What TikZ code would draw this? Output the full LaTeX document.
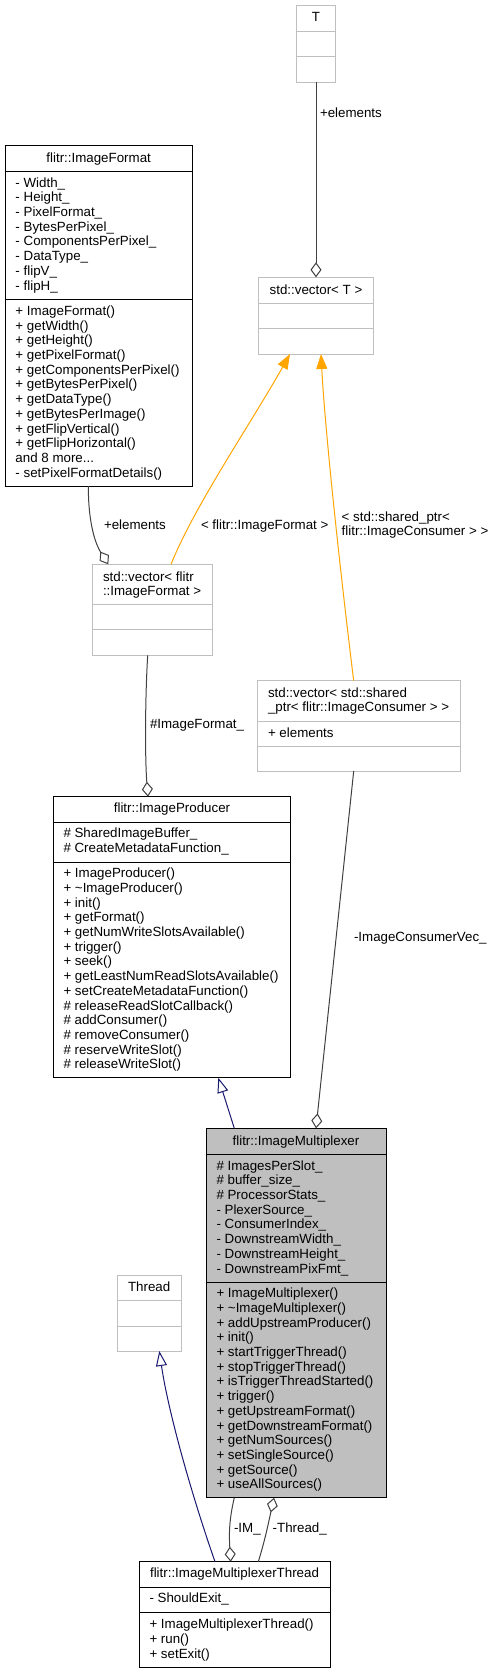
\documentclass[tikz,border=0pt]{standalone}
\usepackage{fontspec}
\setmainfont{Liberation Sans}
\usetikzlibrary{arrows.meta}
\definecolor{undoc}{HTML}{BFBFBF}
\definecolor{assoccol}{HTML}{404040}
\definecolor{inhcol}{HTML}{191970}
\definecolor{tplcol}{HTML}{FFA500}
\definecolor{muxfill}{HTML}{BFBFBF}
\tikzset{
 txt/.style={inner sep=0pt, outer sep=0pt, font=\fontsize{13.33}{14.69}\selectfont, anchor=base west},
 ttl/.style={txt, anchor=base},
 classbox/.style={draw=black, fill=white, line width=1pt, inner sep=0pt, outer sep=0pt},
 undocbox/.style={classbox, draw=undoc},
 docdiv/.style={draw=black, line width=1pt},
 undocdiv/.style={draw=undoc, line width=1pt},
 assoc/.style={draw=assoccol, line width=1pt, -{Diamond[open, length=15pt, width=11pt, fill=white]}},
 inherit/.style={draw=inhcol, line width=1pt, -{Triangle[open, length=15pt, width=11pt, fill=white]}},
 tpl/.style={draw=tplcol, line width=1pt, -{Triangle[length=15pt, width=11pt, fill=tplcol]}},
}
\newcommand\textlines[4]{\foreach \t [count=\i from 0] in {#4} {\node[txt] (#1\i) at (#2,{#3+\i*14.69}) {\t};}}
\begin{document}
\begin{tikzpicture}[x=1pt,y=-1pt]
\useasboundingbox (0,0) rectangle (495,1673);

% ---------- boxes ----------
\node[undocbox, minimum width=38.6pt, minimum height=76.3pt] (T) at (316,43.85) {};
\draw[undocdiv] (296.7,31.3) -- (335.3,31.3) (296.7,56.7) -- (335.3,56.7);
\node[ttl] (Tt) at (316,21.5) {T};

\node[undocbox, minimum width=114.6pt, minimum height=76.7pt] (vecT) at (316,315.65) {};
\draw[undocdiv] (258.7,303.3) -- (373.3,303.3) (258.7,328.7) -- (373.3,328.7);
\node[ttl] (vecTt) at (316,294.2) {std::vector< T >};

\node[classbox, minimum width=187.3pt, minimum height=340.3pt] (imf) at (98.65,315.85) {};
\draw[docdiv] (5,171.3) -- (192.3,171.3) (5,299.3) -- (192.3,299.3);
\node[ttl] (imft) at (98.65,162.2) {flitr::ImageFormat};
\textlines{imfa}{15.5}{187.2}{- Width\_, - Height\_, - PixelFormat\_, - BytesPerPixel\_, - ComponentsPerPixel\_, - DataType\_, - flipV\_, - flipH\_}
\textlines{imfm}{15.5}{315.5}{+ ImageFormat(), + getWidth(), + getHeight(), + getPixelFormat(), + getComponentsPerPixel(), + getBytesPerPixel(), + getDataType(), + getBytesPerImage(), + getFlipVertical(), + getFlipHorizontal(), and 8 more.{}.{}., - setPixelFormatDetails()}

\node[undocbox, minimum width=120pt, minimum height=91pt] (vecIF) at (152,609.8) {};
\draw[undocdiv] (92,604.3) -- (212,604.3) (92,629.7) -- (212,629.7);
\textlines{vecIFt}{103}{581.2}{std::vector< flitr, ::ImageFormat >}

\node[undocbox, minimum width=202.7pt, minimum height=90.3pt] (vecSP) at (358.65,725.85) {};
\draw[undocdiv] (257.3,721) -- (460,721) (257.3,746) -- (460,746);
\textlines{vecSPt}{268}{697.2}{std::vector< std::shared, \_ptr< flitr::ImageConsumer > >}
\node[txt] (vecSPa) at (268,737.2) {+ elements};

\node[classbox, minimum width=237.4pt, minimum height=281pt] (prod) at (172,937.2) {};
\draw[docdiv] (53.3,822.3) -- (290.7,822.3) (53.3,862) -- (290.7,862);
\node[ttl] (prodt) at (172,812.8) {flitr::ImageProducer};
\textlines{proda}{63.5}{837.8}{\# SharedImageBuffer\_, \# CreateMetadataFunction\_}
\textlines{prodm}{63.5}{877.8}{+ ImageProducer(), + \textasciitilde{}ImageProducer(), + init(), + getFormat(), + getNumWriteSlotsAvailable(), + trigger(), + seek(), + getLeastNumReadSlotsAvailable(), + setCreateMetadataFunction(), \# releaseReadSlotCallback(), \# addConsumer(), \# removeConsumer(), \# reserveWriteSlot(), \# releaseWriteSlot()}

\node[classbox, fill=muxfill, minimum width=180pt, minimum height=369.4pt] (mux) at (296,1313) {};
\draw[docdiv] (206,1154) -- (386,1154) (206,1282) -- (386,1282);
\node[ttl] (muxt) at (296,1145.2) {flitr::ImageMultiplexer};
\textlines{muxa}{216.5}{1170.2}{\# ImagesPerSlot\_, \# buffer\_size\_, \# ProcessorStats\_, - PlexerSource\_, - ConsumerIndex\_, - DownstreamWidth\_, - DownstreamHeight\_, - DownstreamPixFmt\_}
\textlines{muxm}{216.5}{1297.8}{+ ImageMultiplexer(), + \textasciitilde{}ImageMultiplexer(), + addUpstreamProducer(), + init(), + startTriggerThread(), + stopTriggerThread(), + isTriggerThreadStarted(), + trigger(), + getUpstreamFormat(), + getDownstreamFormat(), + getNumSources(), + setSingleSource(), + getSource(), + useAllSources()}

\node[undocbox, minimum width=64.3pt, minimum height=76pt] (thread) at (149.15,1313) {};
\draw[undocdiv] (117,1300.3) -- (181.3,1300.3) (117,1326) -- (181.3,1326);
\node[ttl] (threadt) at (149.15,1291.2) {Thread};

\node[classbox, minimum width=191pt, minimum height=105.3pt] (mt) at (234.5,1614.35) {};
\draw[docdiv] (139,1587.3) -- (330,1587.3) (139,1612.7) -- (330,1612.7);
\node[ttl] (mtt) at (234.5,1577.8) {flitr::ImageMultiplexerThread};
\node[txt] (mta) at (149.5,1602.8) {- ShouldExit\_};
\textlines{mtm}{149.5}{1628.8}{+ ImageMultiplexerThread(), + run(), + setExit()}

% ---------- connectors ----------
\draw[assoc] (T.south) -- (vecT.north);
\node[txt] (l1) at (320,117.5) {+elements};

\draw[assoc] ([xshift=-10.35pt]imf.south) .. controls (88.3,530) and (98,548) .. ([xshift=-43.7pt]vecIF.north);
\node[txt] (l2) at (104,529.2) {+elements};

\draw[tpl] ([xshift=19pt]vecIF.north) .. controls (195,505) and (250,425) .. ([xshift=-26pt]vecT.south);
\node[txt] (l3) at (201,529.2) {< flitr::ImageFormat >};

\draw[tpl] ([xshift=-4.95pt]vecSP.north) .. controls (340,570) and (325,430) .. ([xshift=5pt]vecT.south);
\textlines{l4}{341.7}{521.2}{< std::shared\_ptr<, flitr::ImageConsumer > >}

\draw[assoc] ([xshift=-4.3pt]vecIF.south) .. controls (145,700) and (145,760) .. ([xshift=-24pt]prod.north);
\node[txt] (l5) at (150,728.8) {\#ImageFormat\_};

\draw[assoc] ([xshift=-4.95pt]vecSP.south) -- ([xshift=20pt]mux.north);
\node[txt] (l6) at (354,941.2) {-ImageConsumerVec\_};

\draw[inherit] ([xshift=-61.7pt]mux.north) -- ([xshift=46.3pt]prod.south);

\draw[inherit] ([xshift=-19.5pt]mt.north) .. controls (190,1490) and (168,1410) .. ([xshift=10.15pt]thread.south);

\draw[assoc] ([xshift=-61.7pt]mux.south) .. controls (229,1520) and (229,1535) .. ([xshift=-3.8pt]mt.north);
\node[txt] (l7) at (234,1532.8) {-IM\_};

\draw[assoc] ([xshift=23.8pt]mt.north) .. controls (265,1540) and (268,1525) .. ([xshift=-22pt]mux.south);
\node[txt] (l8) at (272.7,1532.8) {-Thread\_};
\end{tikzpicture}
\end{document}
